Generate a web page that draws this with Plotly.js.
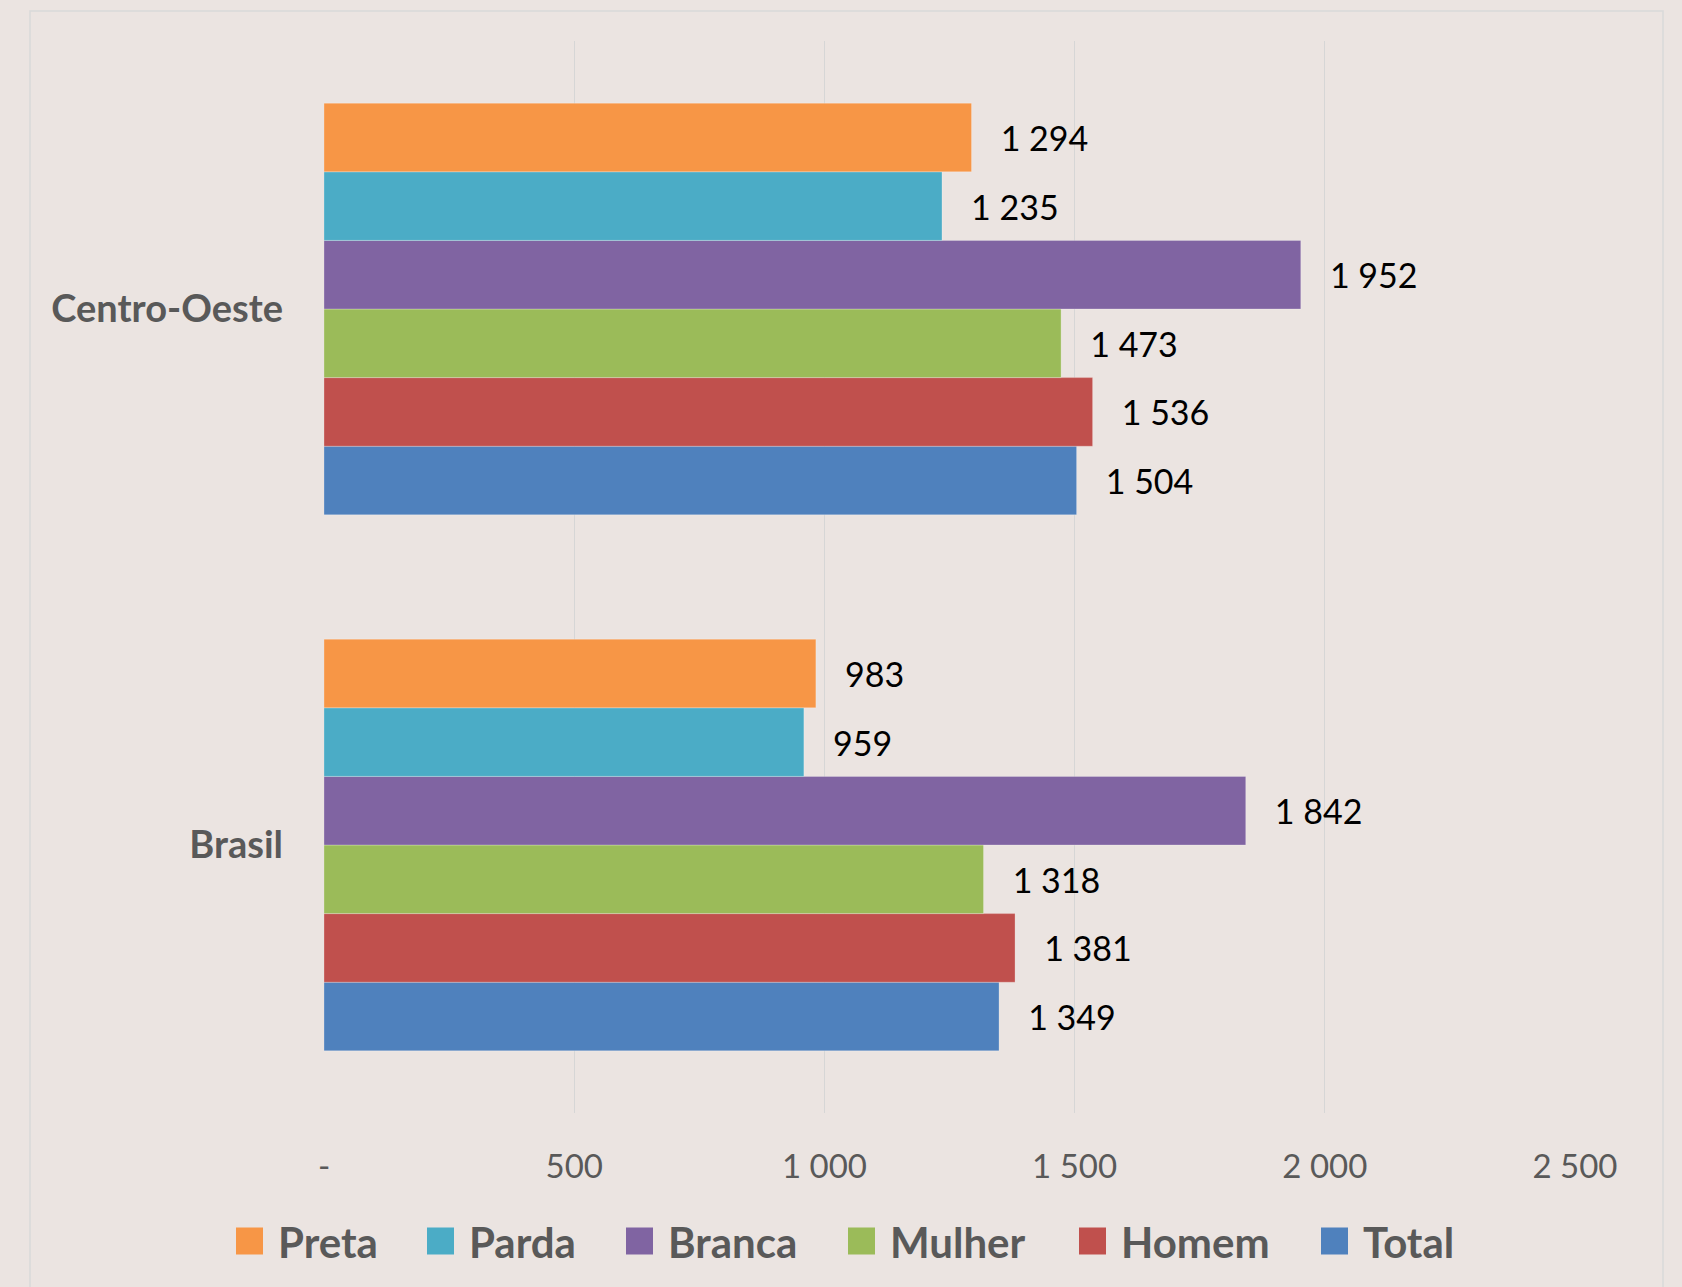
<!DOCTYPE html>
<html>
<head>
<meta charset="utf-8">
<script src="https://cdn.plot.ly/plotly-3.0.1.min.js"></script>
<style>html,body{margin:0;padding:0;background:#ebe4e1;}#chart{width:1682px;height:1287px;}</style>
</head>
<body>
<div id="chart"></div>
<script>
// Data
const categories = ["Brasil", "Centro-Oeste"];
const seriesNames = ["Preta", "Parda", "Branca", "Mulher", "Homem", "Total"];
const preta  = [983, 1294];
const parda  = [959, 1235];
const branca = [1842, 1952];
const mulher = [1318, 1473];
const homem  = [1381, 1536];
const total  = [1349, 1504];
const tickValues = [0, 500, 1000, 1500, 2000, 2500];
const tickLabels = ["-", "500", "1 000", "1 500", "2 000", "2 500"];

const colors = {
  Preta: "#F79646", Parda: "#4BACC6", Branca: "#8064A2",
  Mulher: "#9BBB59", Homem: "#C0504D", Total: "#4F81BD"
};
const valuesBySeries = { Preta: preta, Parda: parda, Branca: branca, Mulher: mulher, Homem: homem, Total: total };

const FONT = "Lato, 'Open Sans', sans-serif";
const pad = "\u00a0\u00a0\u00a0";

// Page geometry
const W = 1682, H = 1287;
const M = { l: 324, r: 107, t: 41, b: 174 };
const plotW = W - M.l - M.r, plotH = H - M.t - M.b;
const px2x = p => (p - M.l) / plotW;
const px2y = p => (H - M.b - p) / plotH;

// Plotly stacks horizontal group bars bottom-up: add Total first so Preta ends on top
const order = seriesNames.slice().reverse();
const traces = order.map(name => ({
  type: "bar",
  orientation: "h",
  name: name,
  y: categories,
  x: valuesBySeries[name],
  marker: { color: colors[name], line: { color: "rgba(255,255,255,0.25)", width: 1 } },
  texttemplate: pad + "%{x:,}",
  textposition: "outside",
  cliponaxis: false,
  textfont: { family: FONT, size: 34, color: "#000000" },
  showlegend: false,
  hoverinfo: "x+name"
}));

// Legend (large square swatches like the original)
const legendLeft = [236, 427, 626, 848, 1079, 1321];
const legendCY = 1241, sw = 27;
const shapes = [{
  type: "rect", xref: "paper", yref: "paper",
  x0: px2x(30), x1: px2x(1663), y0: px2y(1300), y1: px2y(11),
  line: { color: "#d9d9d9", width: 1.5 },
  fillcolor: "rgba(0,0,0,0)", layer: "below"
}];
const annotations = [];
seriesNames.forEach((name, i) => {
  const x0 = legendLeft[i];
  shapes.push({
    type: "rect", xref: "paper", yref: "paper",
    x0: px2x(x0), x1: px2x(x0 + sw),
    y0: px2y(legendCY + sw / 2), y1: px2y(legendCY - sw / 2),
    line: { width: 0 }, fillcolor: colors[name]
  });
  annotations.push({
    xref: "paper", yref: "paper",
    x: px2x(x0 + sw + 13), y: px2y(legendCY + 1),
    xanchor: "left", yanchor: "middle",
    text: name, showarrow: false,
    font: { family: FONT, size: 42, color: "#595959", weight: "bold" }
  });
});

const layout = {
  width: W,
  height: H,
  paper_bgcolor: "#ebe4e1",
  plot_bgcolor: "rgba(0,0,0,0)",
  separators: ", ",
  margin: M,
  barmode: "group",
  bargap: 0.232,
  bargroupgap: 0,
  font: { family: FONT, color: "#595959" },
  xaxis: {
    range: [0, 2500],
    tickvals: tickValues,
    ticktext: tickLabels,
    showgrid: true,
    gridcolor: "#d6d6d6",
    gridwidth: 1,
    zeroline: false,
    showline: false,
    ticks: "",
    ticklabelstandoff: 31,
    tickfont: { family: FONT, size: 33, color: "#595959" },
    fixedrange: true
  },
  yaxis: {
    type: "category",
    categoryorder: "array",
    categoryarray: categories,
    range: [-0.5, 1.5],
    showgrid: false,
    zeroline: false,
    showline: false,
    ticks: "",
    ticklabelstandoff: 40,
    tickfont: { family: FONT, size: 38, color: "#595959", weight: "bold" },
    fixedrange: true
  },
  showlegend: false,
  shapes: shapes,
  annotations: annotations
};

Plotly.newPlot("chart", traces, layout, { displayModeBar: false, staticPlot: true });
</script>
</body>
</html>
